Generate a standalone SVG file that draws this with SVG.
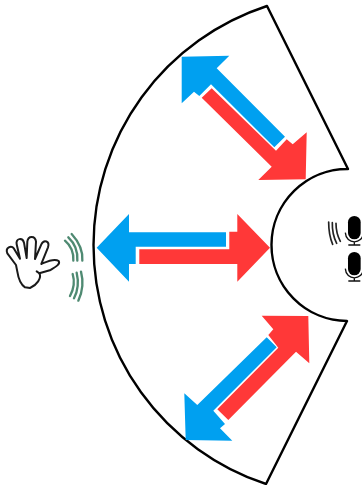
<svg xmlns="http://www.w3.org/2000/svg" width="362" height="485" viewBox="0 0 362 485">
<style>
.sector{fill:#fff;stroke:#000;stroke-width:2.4;stroke-linejoin:round}
.blue{fill:#00a0f0}
.red{fill:#ff3838}
.wave{fill:none;stroke:#4f8a72;stroke-width:7;stroke-linecap:round}
.micwave{fill:none;stroke:#222;stroke-width:5;stroke-linecap:round}
.micline{fill:none;stroke:#111;stroke-width:4}
</style>
<defs>
<g id="mic">
<rect x="264" y="198" width="38" height="70" rx="19" fill="#000"/>
<path class="micline" d="M256 248C258 285 308 285 310 248M283 274V285M265 285H301"/>
</g>
</defs>
<rect width="362" height="485" fill="#fff"/>
<g id="sector"><path class="sector" d="M267 6A251.6 251.6 0 0 0 266 484L347 321A76 76 0 0 1 348 169Z"/></g>
<g id="connectors">
<g id="arrow-top">
<path class="blue" d="M181.7 56.7L229.3 55.7L216.7 68.3L285 136.7L274.3 147.3L211 84.3L199.3 96L194 91.7L181.7 103.3Z"/>
<path class="red" d="M201.7 97.7L211.7 88.3L276 150.7L286.7 139.3L292.7 144.3L306.7 132.3L305.7 179.3L258.3 180L271.7 166.7Z"/>
</g>
<g id="arrow-middle">
<path class="blue" d="M96.7 247.7L129 214V232.3H226V246.7H135.7V264H129V281.7Z"/>
<path class="red" d="M139.3 249.3H229.3V231.7H237.3V214L270 247.7L237.3 281.7V264H139.3Z"/>
</g>
<g id="arrow-bottom">
<path class="red" d="M261.7 315.7L308.3 316L309.3 363.3L296 351.7L228.3 420L217.3 409.3L278.3 347.7L268.3 335L273.3 329.3Z"/>
<path class="blue" d="M266.7 337.3L276.7 347.3L213.3 410.7L225 424L220 428.3L232.3 440.7L185.7 440L184.3 393.3L197.3 405Z"/>
</g>
</g>
<g id="hand" transform="translate(0 190) scale(.3333)">
<path d="M75 292C60 282 55 265 52 245L48 225L22 190C15 172 34 165 42 176L60 206L50 163C46 144 68 142 72 158L80 204L82 155C84 136 106 136 108 155L105 207L124 163C132 147 150 153 144 172L124 222C138 216 162 203 176 213C182 222 168 230 152 240L118 250C126 264 110 286 90 294Z" fill="#fff" stroke="#1a1a1a" stroke-width="6" stroke-linejoin="round"/>
<path d="M118 250L110 244" fill="none" stroke="#1a1a1a" stroke-width="6" stroke-linecap="round"/>
</g>
<g id="hand-waves" transform="translate(0 190) scale(.3333)">
<path class="wave" d="M195 152Q222 175 220 212M205 142Q235 170 232 212M215 132Q250 170 247 212M218 252Q228 285 210 318M230 248Q240 290 222 325M243 245Q255 290 235 332"/>
</g>
<g id="microphones" transform="translate(260 150) scale(.3333)">
<use href="#mic"/>
<use href="#mic" y="108"/>
<path class="micwave" d="M206 216Q206 255 218 283M217 218Q216 252 230 280M228 220Q228 250 241 274"/>
</g>
</svg>
